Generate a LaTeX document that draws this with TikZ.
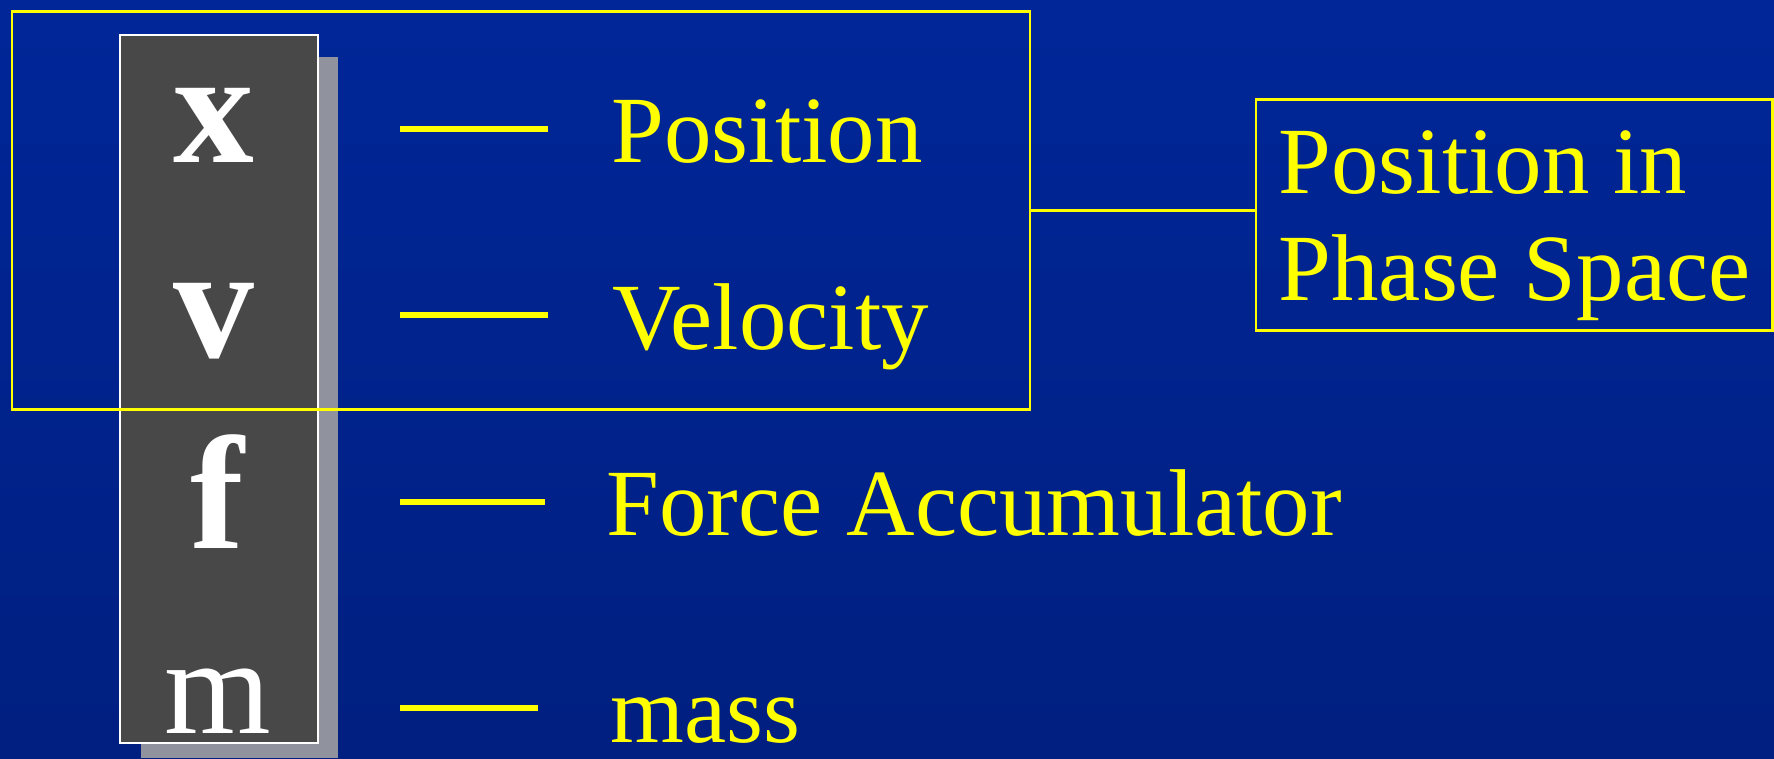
\documentclass[tikz,border=0pt]{standalone}
\usepackage{fontspec}
\setmainfont{Liberation Serif}
\usetikzlibrary{positioning}
\definecolor{bgtop}{HTML}{002698}
\definecolor{bgbot}{HTML}{001F80}
\definecolor{hilite}{HTML}{FFFF00}
\definecolor{slab}{HTML}{484848}
\definecolor{shadowgray}{HTML}{90939E}

\begin{document}
\begin{tikzpicture}[x=1cm,y=-1cm]
\tikzset{
  hibox/.style={draw=hilite,line width=.85pt,inner sep=0pt},
  sym/.style={text=white,anchor=base,inner sep=0pt,font=\fontsize{46pt}{50pt}\selectfont},
  lbl/.style={text=hilite,anchor=base west,inner sep=0pt,font=\fontsize{27pt}{30.4pt}\selectfont},
  bar/.style={hilite,line width=1.85pt}
}
\useasboundingbox (0,0) rectangle (17.74,7.58);
\fill[top color=bgtop,bottom color=bgbot] (0,0) rectangle (17.74,7.58);
% state vector column
\fill[shadowgray] (1.41,.57) rectangle (3.38,7.58);
\node[draw=white,line width=.7pt,fill=slab,minimum width=1.98cm,minimum height=7.08cm] (col) at (2.19,3.89){};
\node[hibox,minimum width=10.18cm,minimum height=3.98cm] (state) at (5.21,2.10){};
\node[sym] (xs) at (2.14,1.62){\bfseries x};
\node[sym] (vs) at (2.14,3.57){\bfseries v};
\node[sym] (fs) at (2.17,5.48){\bfseries f};
\node[sym] (ms) at (2.18,7.33){\fontsize{39pt}{42pt}\selectfont m};
% labels
\node[lbl] (pos) at (6.11,1.62){Position};
\node[lbl] (vel) at (6.12,3.49){Velocity};
\node[lbl] (force) at (6.06,5.35){Force Accumulator};
\node[lbl] (mass) at (6.10,7.42){mass};
\draw[bar] (pos.base west) ++(-2.11,-.33) -- ++(1.48,0);
\draw[bar] (vel.base west) ++(-2.12,-.34) -- ++(1.48,0);
\draw[bar] (force.base west) ++(-2.06,-.33) -- ++(1.45,0);
\draw[bar] (mass.base west) ++(-2.10,-.34) -- ++(1.38,0);
% phase space
\node[hibox,minimum width=5.16cm,minimum height=2.31cm] (phase) at (15.14,2.145){};
\node[lbl,align=left,anchor=north west] (phasetxt) at (12.78,1.30){Position in\\Phase Space};
\draw[hilite,line width=.85pt] (state.east) -- (phase.west |- state.east);
\end{tikzpicture}
\end{document}
